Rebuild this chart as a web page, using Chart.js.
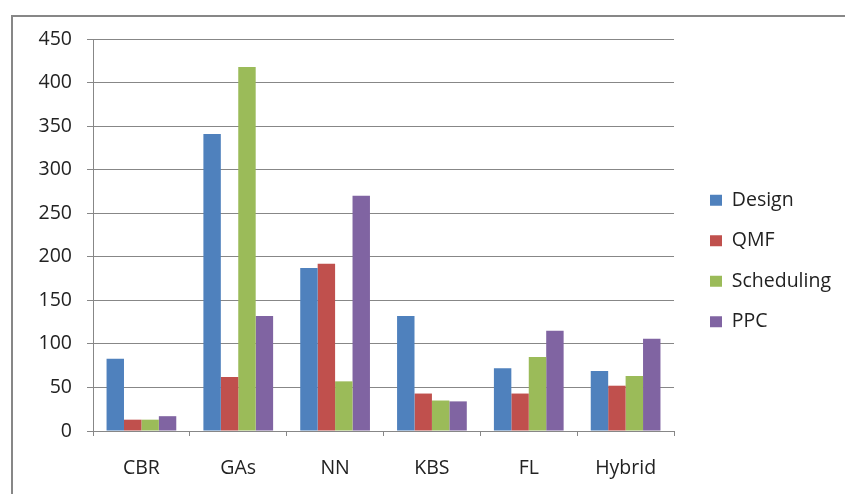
<!DOCTYPE html>
<html>
<head>
<meta charset="utf-8">
<script src="https://cdn.jsdelivr.net/npm/chart.js@4/dist/chart.umd.min.js"></script>
<style>
  html, body { margin: 0; padding: 0; background: #fff; overflow: hidden; width: 845px; height: 494px; }
  #frame {
    position: absolute; left: 11px; top: 15px; width: 900px; height: 600px;
    border-left: 2px solid #878787; border-top: 2px solid #878787;
  }
  /* canvas is wider than the page and shifted left; the page crops it like the original picture */
  #wrap { position: absolute; left: -100px; top: 0; width: 1000px; height: 494px; }
</style>
</head>
<body>
<div id="frame"></div>
<div id="wrap"><canvas id="chart"></canvas></div>
<script>
const categories = ["CBR", "GAs", "NN", "KBS", "FL", "Hybrid"];
const design = [83, 341, 187, 132, 72, 69];
const qmf = [13, 62, 192, 43, 43, 52];
const scheduling = [13, 418, 57, 35, 85, 63];
const ppc = [17, 132, 270, 34, 115, 106];

const FONT = { family: "'Open Sans', sans-serif", size: 19.5 };

const series = [
    ["Design", design, "#4F81BD"],
    ["QMF", qmf, "#C0504D"],
    ["Scheduling", scheduling, "#9BBB59"],
    ["PPC", ppc, "#8064A2"]
];

const config = {
    type: "bar",
    data: {
        labels: categories,
        datasets: series.map(([label, data, color]) => ({
            label,
            data,
            backgroundColor: color,
            borderWidth: 0,
            categoryPercentage: 0.72,
            barPercentage: 1.0
        }))
    },
    options: {
        responsive: true,
        maintainAspectRatio: false,
        animation: false,
        layout: { padding: { top: 39, right: 59, bottom: 11, left: 0 } },
        plugins: {
            tooltip: { enabled: false },
            legend: {
                position: "right",
                labels: {
                    boxWidth: 12,
                    boxHeight: 11,
                    padding: 21,
                    color: "#222",
                    font: FONT
                }
            }
        },
        scales: {
            x: {
                grid: {
                    display: true,
                    drawOnChartArea: false,
                    offset: true,
                    tickLength: 5,
                    color: "#878787"
                },
                border: { color: "#878787" },
                ticks: { color: "#222", font: FONT, padding: 21 },
                afterFit: (scale) => { scale.height = 52; }
            },
            y: {
                min: 0,
                max: 450,
                ticks: { stepSize: 50, color: "#222", font: FONT, padding: 15 },
                grid: { color: "#878787", tickLength: 6 },
                border: { color: "#878787" },
                afterFit: (scale) => { scale.width = 193; }
            },
            // empty spacer between the plot and the legend
            gap: {
                type: "linear",
                position: "right",
                grid: { display: false },
                border: { display: false },
                ticks: { display: false },
                afterFit: (scale) => { scale.width = 15; }
            }
        }
    }
};

new Chart(document.getElementById("chart"), config);
</script>
</body>
</html>
